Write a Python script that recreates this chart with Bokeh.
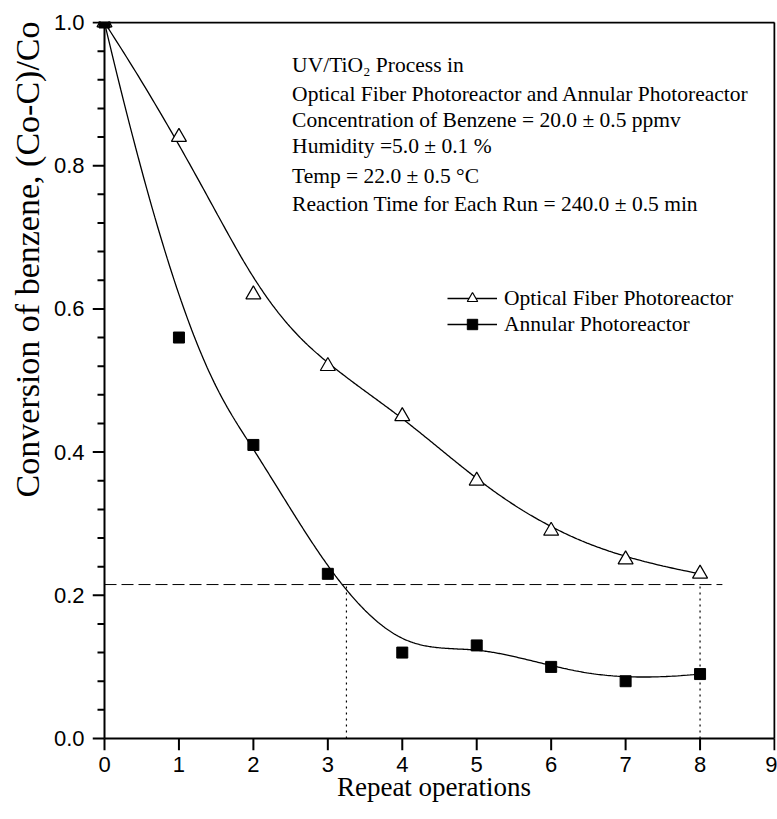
import numpy as np
from bokeh.plotting import figure
from bokeh.models import (Label, Legend, LegendItem, FixedTicker, Title,
                          PrintfTickFormatter, Range1d)
from bokeh.embed import file_html
from bokeh.resources import INLINE

# Conversion of benzene after each repeated run
runs = [0, 1, 2, 3, 4, 5, 6, 7, 8]
optical_fiber = [1.00, 0.84, 0.62, 0.52, 0.45, 0.36, 0.29, 0.25, 0.23]
annular = [1.00, 0.56, 0.41, 0.23, 0.12, 0.13, 0.10, 0.08, 0.09]
x_ticks = [0, 1, 2, 3, 4, 5, 6, 7, 8, 9]
y_ticks = [0.0, 0.2, 0.4, 0.6, 0.8, 1.0]

# guide lines: conversion level reached by the fiber reactor after 8 runs
reference_level = 0.215
crossing_run = 3.25
last_run = 8
guide_end = 8.3

notes = [
    "UV/TiO\u2082 Process in",
    "Optical Fiber Photoreactor and Annular Photoreactor",
    "Concentration of Benzene = 20.0 \u00b1 0.5 ppmv",
    "Humidity =5.0 \u00b1 0.1 %",
    "Temp = 22.0 \u00b1 0.5 \u00b0C",
    "Reaction Time for Each Run = 240.0 \u00b1 0.5 min",
]


def bspline(px, py, n=400, degree=3):
    """Clamped uniform B-spline using the points as control points."""
    px = np.asarray(px, float)
    py = np.asarray(py, float)
    m = len(px)
    knots = np.concatenate([np.zeros(degree),
                            np.arange(m - degree + 1, dtype=float),
                            np.full(degree, float(m - degree))])
    t = np.linspace(0.0, m - degree, n)
    t[-1] -= 1e-9
    N = np.array([(knots[i] <= t) & (t < knots[i + 1])
                  for i in range(len(knots) - 1)], dtype=float)
    for d in range(1, degree + 1):
        Nn = np.zeros((len(knots) - 1 - d, n))
        for i in range(len(knots) - 1 - d):
            a = knots[i + d] - knots[i]
            b = knots[i + d + 1] - knots[i + 1]
            left = (t - knots[i]) / a * N[i] if a > 0 else 0.0
            right = (knots[i + d + 1] - t) / b * N[i + 1] if b > 0 else 0.0
            Nn[i] = left + right
        N = Nn
    return N.T @ px, N.T @ py


# page and data-box geometry (pixels)
W, H = 777, 819
BOX_LEFT, BOX_TOP, BOX_W, BOX_H = 104, 22, 670, 716
X_MAX, Y_MAX = 9, 1.0
MAJOR_OUT, MINOR_OUT, PAD = 12, 7, 1

px_per_x = BOX_W / X_MAX
px_per_y = BOX_H / Y_MAX

# the frame is widened so that outward ticks fall inside it
x_range = Range1d(-MAJOR_OUT / px_per_x, X_MAX + PAD / px_per_x)
y_range = Range1d(-MAJOR_OUT / px_per_y, Y_MAX + PAD / px_per_y)

p = figure(width=W, height=H, x_range=x_range, y_range=y_range,
           output_backend="svg", toolbar_location=None,
           min_border_left=BOX_LEFT - MAJOR_OUT,
           min_border_right=W - BOX_LEFT - BOX_W - PAD,
           min_border_top=BOX_TOP - PAD,
           min_border_bottom=H - BOX_TOP - BOX_H - MAJOR_OUT)

p.xgrid.visible = False
p.ygrid.visible = False
p.outline_line_color = None
p.background_fill_color = "white"

sans = "Liberation Sans"
serif = "Liberation Serif"

for ax in (p.xaxis, p.yaxis):
    ax.axis_line_color = None
    ax.major_tick_line_color = None
    ax.minor_tick_line_color = None
    ax.major_tick_in = 0
    ax.major_tick_out = 0
    ax.major_label_text_font = sans
    ax.major_label_text_font_size = "22px"
    ax.major_label_text_color = "black"

p.xaxis.ticker = FixedTicker(ticks=x_ticks)
p.xaxis.major_label_standoff = 6
p.xaxis.axis_label = "Repeat operations"
p.xaxis.axis_label_text_font = serif
p.xaxis.axis_label_text_font_size = "27px"
p.xaxis.axis_label_text_font_style = "normal"
p.xaxis.axis_label_text_color = "black"
p.xaxis.axis_label_standoff = -3

p.yaxis.ticker = FixedTicker(ticks=y_ticks)
p.yaxis.formatter = PrintfTickFormatter(format="%.1f")
p.yaxis.major_label_standoff = 8

# y-axis title, pushed toward the top of the axis
p.add_layout(Title(text="Conversion of benzene, (Co-C)/Co", align="right",
                   offset=0, text_font=serif, text_font_size="34px",
                   text_font_style="normal", text_color="black",
                   standoff=10), "left")

# box around the data area and outward tick marks
frame_style = dict(line_color="black", line_width=2)
p.segment(x0=[0, 0, 0, X_MAX], y0=[0, Y_MAX, 0, 0],
          x1=[X_MAX, X_MAX, 0, X_MAX], y1=[0, Y_MAX, Y_MAX, Y_MAX],
          **frame_style)
y_minor = [v for v in np.round(np.arange(0, Y_MAX + 1e-9, 0.04), 2)
           if not np.isclose(v, y_ticks).any()]
p.segment(x0=[-MAJOR_OUT / px_per_x] * len(y_ticks), y0=y_ticks,
          x1=[0] * len(y_ticks), y1=y_ticks, **frame_style)
p.segment(x0=[-MINOR_OUT / px_per_x] * len(y_minor), y0=y_minor,
          x1=[0] * len(y_minor), y1=y_minor, **frame_style)
p.segment(x0=x_ticks, y0=[-MAJOR_OUT / px_per_y] * len(x_ticks),
          x1=x_ticks, y1=[0] * len(x_ticks), **frame_style)

# guide lines
p.segment(x0=[0], y0=[reference_level], x1=[guide_end], y1=[reference_level],
          line_color="black", line_width=1, line_dash="12 5")
p.segment(x0=[crossing_run, last_run], y0=[0, 0],
          x1=[crossing_run, last_run], y1=[reference_level, reference_level],
          line_color="black", line_width=1.2, line_dash="2 4")

# smoothed curves
ofx, ofy = bspline(runs, optical_fiber)
anx, any_ = bspline(runs, annular)
l1 = p.line(ofx, ofy, line_color="black", line_width=1.3)
l2 = p.line(anx, any_, line_color="black", line_width=1.3)

s1 = p.scatter(runs, optical_fiber, marker="triangle", size=15,
               fill_color="white", line_color="black", line_width=1.2)
s2 = p.scatter(runs, annular, marker="square", size=11,
               fill_color="black", line_color="black")

legend = Legend(items=[
    LegendItem(label="Optical Fiber Photoreactor", renderers=[l1, s1]),
    LegendItem(label="Annular Photoreactor", renderers=[l2, s2]),
], location=(343 + MAJOR_OUT, 401 + MAJOR_OUT))
legend.border_line_color = None
legend.background_fill_alpha = 0
legend.label_text_font = serif
legend.label_text_font_size = "21.5px"
legend.label_text_color = "black"
legend.glyph_width = 50
legend.glyph_height = 26
legend.label_height = 26
legend.spacing = 0
legend.padding = 0
legend.margin = 0
legend.label_standoff = 7
p.add_layout(legend)

# process conditions
note_baselines = [0.9413, 0.9008, 0.8645, 0.8282, 0.7863, 0.7472]
for line, yb in zip(notes, note_baselines):
    p.add_layout(Label(x=2.52, y=yb, text=line, text_align="left",
                       text_baseline="alphabetic", text_font=serif,
                       text_font_size="21.5px", text_color="black"))

open("out.html", "w").write(file_html(p, INLINE))
